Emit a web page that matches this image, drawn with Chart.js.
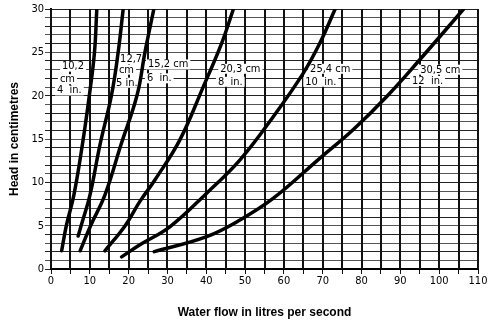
<!DOCTYPE html>
<html lang="en">
<head>
<meta charset="UTF-8">
<title>Head vs water flow</title>
<script src="https://cdn.jsdelivr.net/npm/chart.js@4/dist/chart.umd.min.js"></script>
<style>
  body { margin: 0; background: #fff; }
</style>
</head>
<body>
<canvas id="myChart" width="494" height="328"></canvas>
<script>
// flow (l/s) and head (cm), one pair of arrays per pipe size
const flow102 = [2.75, 3.95, 5.9, 8.07, 9.9, 11.2, 11.8];
const head102 = [2.1, 5, 8.55, 14.3, 20.1, 25, 30];

const flow127 = [7.0, 7.76, 10.05, 12.6, 15.6, 17.3, 18.6];
const head127 = [3.8, 5, 8.55, 14.3, 20.1, 25, 30];

const flow152 = [7.5, 10.2, 13.9, 18.0, 22.2, 24.2, 26.5];
const head152 = [2.1, 5, 8.55, 14.3, 20.1, 25, 30];

const flow203 = [13.9, 19.1, 22.9, 26.8, 33.2, 39.3, 44.0, 47.0];
const head203 = [2.1, 5, 7.8, 10.3, 14.9, 21.1, 26.1, 30];

const flow254 = [18.2, 22.9, 30.7, 40.1, 48.7, 57.3, 65.0, 69.3, 73.2];
const head254 = [1.4, 2.8, 4.9, 8.75, 12.6, 17.6, 22.6, 26.1, 30];

const flow305 = [26.6, 40.1, 48.7, 57.3, 69.3, 77.9, 86.5, 95.1, 106.3];
const head305 = [2.0, 3.74, 5.66, 8.17, 12.8, 16.1, 19.9, 24.2, 30];

const sizeNames = ['10,2 cm', '12,7 cm', '15,2 cm', '20,3 cm', '25,4 cm', '30,5 cm'];

// curve labels: text lines with their left/middle anchor in data units
const curveLabels = [
  { text: '10,2', x: 2.84, y: 23.35 },
  { text: 'cm', x: 2.3, y: 21.9 },
  { text: '4  in.', x: 1.55, y: 20.6 },
  { text: '12,7', x: 17.8, y: 24.2 },
  { text: 'cm', x: 17.5, y: 23.0 },
  { text: '5 in.', x: 16.75, y: 21.5 },
  { text: '15,2 cm', x: 25.0, y: 23.6 },
  { text: '6  in.', x: 24.7, y: 22.0 },
  { text: '20,3 cm', x: 43.6, y: 23.1 },
  { text: '8  in.', x: 43.0, y: 21.6 },
  { text: '25,4 cm', x: 66.75, y: 23.1 },
  { text: '10  in.', x: 65.5, y: 21.6 },
  { text: '30,5 cm', x: 95.1, y: 23.0 },
  { text: '12  in.', x: 93.0, y: 21.7 }
];

const labelFont = "11px 'DejaVu Sans Condensed', 'Liberation Sans Narrow', sans-serif";
const tickFamily = "'DejaVu Sans Condensed', 'Liberation Sans Narrow', sans-serif";

function pairs(xs, ys) {
  return xs.map((x, i) => ({ x: x, y: ys[i] }));
}

const series = [
  pairs(flow102, head102),
  pairs(flow127, head127),
  pairs(flow152, head152),
  pairs(flow203, head203),
  pairs(flow254, head254),
  pairs(flow305, head305)
];

// vertical rules at every x tick, then the curve labels on white patches
const labelPlugin = {
  id: 'curveLabels',
  beforeDatasetsDraw(chart) {
    const c = chart.ctx;
    const xs = chart.scales.x, ys = chart.scales.y;
    const area = chart.chartArea;
    c.save();
    c.strokeStyle = '#111';
    c.lineWidth = 2;
    xs.ticks.forEach(t => {
      const px = Math.round(xs.getPixelForValue(t.value));
      c.beginPath();
      c.moveTo(px, area.top);
      c.lineTo(px, area.bottom);
      c.stroke();
    });
    c.font = labelFont;
    c.textBaseline = 'middle';
    c.textAlign = 'left';
    curveLabels.forEach(l => {
      const px = xs.getPixelForValue(l.x);
      const py = ys.getPixelForValue(l.y);
      const w = c.measureText(l.text).width;
      c.fillStyle = '#fff';
      c.fillRect(px - 2, py - 5, w + 4, 10);
      c.fillStyle = '#000';
      c.fillText(l.text, px, py);
    });
    c.restore();
  }
};

new Chart(document.getElementById('myChart').getContext('2d'), {
  type: 'scatter',
  data: {
    datasets: series.map((pts, i) => ({
      label: sizeNames[i],
      data: pts,
      showLine: true,
      borderColor: '#000',
      borderWidth: 3.5,
      pointRadius: 0,
      tension: 0.4,
      borderCapStyle: 'round'
    }))
  },
  options: {
    responsive: false,
    animation: false,
    layout: { padding: { top: 9, right: 16, left: 0, bottom: 0 } },
    plugins: { legend: { display: false }, tooltip: { enabled: false } },
    scales: {
      x: {
        type: 'linear',
        min: 0,
        max: 110,
        afterFit(scale) { scale.height = 59; },
        border: { display: true, color: '#000', width: 2 },
        grid: { color: '#111', lineWidth: 1, tickLength: 5 },
        ticks: {
          stepSize: 5,
          autoSkip: false,
          maxTicksLimit: 30,
          minRotation: 0,
          maxRotation: 0,
          padding: 1,
          color: '#000',
          font: { family: tickFamily, size: 11 },
          callback: v => (v % 10 === 0 ? String(v) : '')
        },
        title: {
          display: true,
          text: 'Water flow in litres per second',
          color: '#000',
          font: { family: "'Liberation Sans', Arial, sans-serif", size: 12, weight: 'bold' },
          padding: { top: 0, bottom: 8 }
        }
      },
      y: {
        type: 'linear',
        min: 0,
        max: 30,
        afterFit(scale) { scale.width = 51; },
        border: { display: true, color: '#000', width: 2 },
        grid: {
          color: c => (c.tick && c.tick.value % 2 === 0) ? '#222' : '#555',
          lineWidth: 1,
          tickLength: 6
        },
        ticks: {
          stepSize: 1,
          autoSkip: false,
          maxTicksLimit: 40,
          padding: 1,
          color: '#000',
          font: { family: tickFamily, size: 11 },
          callback: v => (v % 5 === 0 ? String(v) : '')
        },
        title: {
          display: true,
          text: 'Head in centimetres',
          color: '#000',
          font: { family: "'Liberation Sans', Arial, sans-serif", size: 12, weight: 'bold' },
          padding: { top: 7, bottom: 0 }
        }
      }
    }
  },
  plugins: [labelPlugin]
});
</script>
</body>
</html>
